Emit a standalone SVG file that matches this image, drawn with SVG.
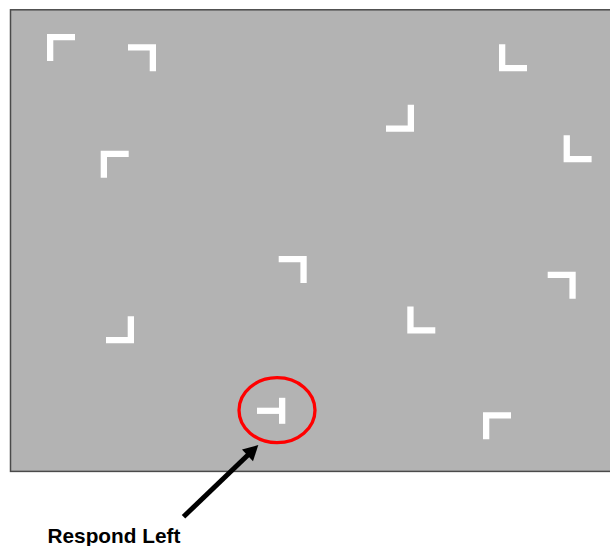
<svg xmlns="http://www.w3.org/2000/svg" xmlns:xlink="http://www.w3.org/1999/xlink" width="610" height="546" viewBox="0 0 610 546">
<style>
.bg{fill:#b3b3b3;stroke:#4a4a4a;stroke-width:1.5}
.item{fill:#ffffff}
.ring{fill:none;stroke:#ff0000;stroke-width:3.3}
.lbl{font-family:"Liberation Sans",Arial,sans-serif;font-weight:bold;font-size:20.8px;fill:#000}
</style>
<defs>
<path id="c" d="M0,0 H28 V6.3 H6.3 V27 H0 Z"/>
</defs>
<rect class="bg" x="10.5" y="9.8" width="620" height="461.6"/>
<g id="corner1" class="item"><use xlink:href="#c" transform="translate(47,34)"/></g>
<g id="corner2" class="item"><use xlink:href="#c" transform="translate(156,44.3) scale(-1,1)"/></g>
<g id="corner3" class="item"><use xlink:href="#c" transform="translate(100.7,150.7)"/></g>
<g id="corner4" class="item"><use xlink:href="#c" transform="translate(499,71.3) scale(1,-1)"/></g>
<g id="corner5" class="item"><use xlink:href="#c" transform="translate(414,131.7) scale(-1,-1)"/></g>
<g id="corner6" class="item"><use xlink:href="#c" transform="translate(563.6,162.3) scale(1,-1)"/></g>
<g id="corner7" class="item"><use xlink:href="#c" transform="translate(306.7,256) scale(-1,1)"/></g>
<g id="corner8" class="item"><use xlink:href="#c" transform="translate(134,343.3) scale(-1,-1)"/></g>
<g id="corner9" class="item"><use xlink:href="#c" transform="translate(575.7,271.7) scale(-1,1)"/></g>
<g id="corner10" class="item"><use xlink:href="#c" transform="translate(407.3,333.6) scale(1,-1)"/></g>
<g id="corner11" class="item"><use xlink:href="#c" transform="translate(483,412.3)"/></g>
<g id="target" class="item">
<rect x="279" y="397.8" width="6.3" height="26"/>
<rect x="257" y="407.7" width="22.5" height="6.2"/>
</g>
<g id="highlight"><ellipse class="ring" cx="277" cy="410.2" rx="38" ry="32.5"/></g>
<g id="connectors">
<line x1="183.5" y1="516.8" x2="249" y2="454" stroke="#000" stroke-width="5"/>
<polygon points="258.3,445 242,449.6 253,461.2" fill="#000"/>
</g>
<g id="label"><text class="lbl" x="47.5" y="543.3">Respond Left</text></g>
</svg>
